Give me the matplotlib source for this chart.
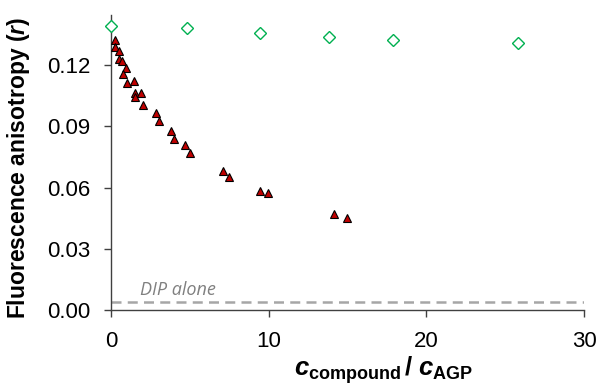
import matplotlib.pyplot as plt

plt.rcParams['font.family'] = 'Liberation Sans'
plt.rcParams['mathtext.fontset'] = 'custom'
plt.rcParams['mathtext.rm'] = 'Liberation Sans:bold'
plt.rcParams['mathtext.it'] = 'Liberation Sans:bold:italic'
plt.rcParams['mathtext.bf'] = 'Liberation Sans:bold'

# compound titration (red triangles)
ratio_tri = [0.25, 0.25, 0.51, 0.51, 0.72, 0.97, 0.76, 1.03, 1.44, 1.52, 1.50, 1.92, 2.01,
             2.83, 3.02, 3.79, 3.99, 4.71, 4.99, 7.08, 7.48, 9.43, 9.97, 14.12, 14.96]
r_tri = [0.1322, 0.1289, 0.1270, 0.1229, 0.1219, 0.1184, 0.1156, 0.1113, 0.1121, 0.1061,
         0.1045, 0.1063, 0.1004, 0.0966, 0.0924, 0.0878, 0.0836, 0.0809, 0.0770, 0.0682,
         0.0650, 0.0583, 0.0571, 0.0472, 0.0452]

# control (green open diamonds)
ratio_dia = [0.0, 4.82, 9.45, 13.8, 17.9, 25.8]
r_dia = [0.139, 0.138, 0.1355, 0.1337, 0.1323, 0.1307]

dip_alone = 0.0039

fig = plt.figure(figsize=(5.98, 3.85), dpi=100)
ax = fig.add_axes([0.1856, 0.1948, 0.791, 0.766])

ax.axhline(dip_alone, color='#A6A6A6', lw=1.8, ls=(0, (4, 2.5)), zorder=1)
ax.text(1.85, 0.0073, 'DIP alone', color='#808080', fontsize=13,
        style='italic', family='Open Sans')

ax.plot(ratio_dia, r_dia, 'D', ms=6, mfc='white', mec='#00B050', mew=1.0, zorder=3,
        clip_on=False)
ax.plot(ratio_tri, r_tri, '^', ms=6.3, mfc='#C00000', mec='black', mew=0.8, zorder=4)

ax.set_xlim(0, 30)
ax.set_ylim(0, 0.1445)
ax.set_xticks([0, 10, 20, 30])
ax.set_yticks([0, 0.03, 0.06, 0.09, 0.12])
ax.set_yticklabels(['0.00', '0.03', '0.06', '0.09', '0.12'])

for s in ['top', 'right']:
    ax.spines[s].set_visible(False)
for s in ['left', 'bottom']:
    ax.spines[s].set_color('#404040')
    ax.spines[s].set_linewidth(1.0)
ax.tick_params(axis='both', labelsize=16, color='#404040', length=5, width=1.0)
ax.tick_params(axis='x', pad=10)
ax.tick_params(axis='y', pad=10)

ax.set_ylabel('Fluorescence anisotropy ($\\mathit{r}$)', fontsize=16.5,
              fontweight='bold')
ax.yaxis.set_label_coords(-0.168, 0.483)
ax.set_xlabel('$\\mathit{c}_{\\mathrm{compound}}\\,\\mathit{/}\\;\\mathit{c}_{\\mathrm{AGP}}$',
              fontsize=18.5)
ax.xaxis.set_label_coords(0.577, -0.15)

fig.savefig('out.png', dpi=100)
